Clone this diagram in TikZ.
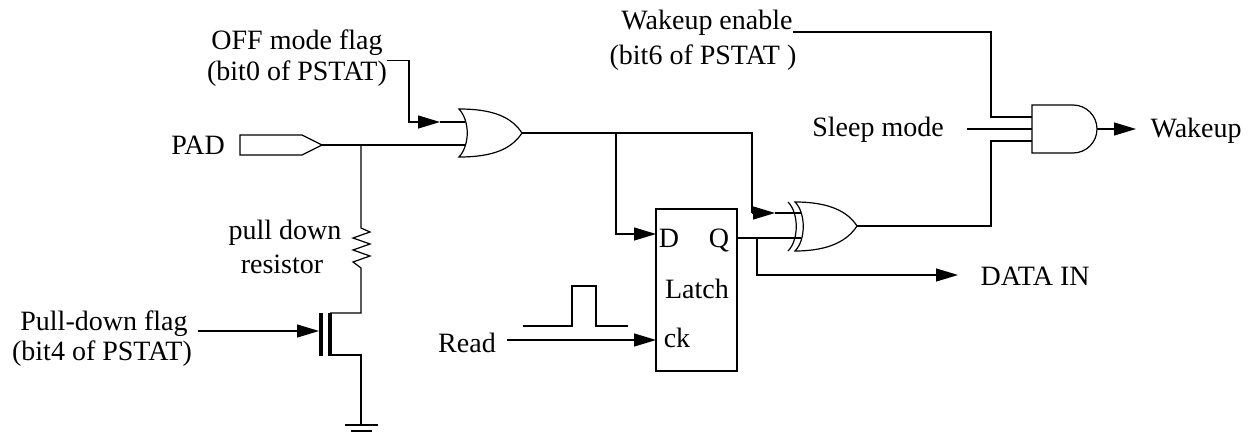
\documentclass[tikz,border=0pt]{standalone}
\usepackage{fontspec}
\setmainfont{Liberation Serif}
\usetikzlibrary{arrows.meta}

\begin{document}
\begin{tikzpicture}[x=0.5pt,y=-0.5pt,line width=0.6pt,
  every node/.style={inner sep=0pt,font=\fontsize{14}{17}\selectfont},
  arr/.style={-{Triangle[length=11pt,width=6.5pt]}},
  fat/.style={line width=1.6pt}]
\useasboundingbox (0,0) rectangle (1258,433);
\draw (459,109) .. controls (495,109) and (512,118) .. (522,133)
  .. controls (512,148) and (495,157) .. (459,157)
  .. controls (470,145) and (470,121) .. (459,109) -- cycle;
\coordinate (or-a) at (465,122);
\coordinate (or-b) at (465,145);
\coordinate (or-y) at (522,133);
\draw (795,202) .. controls (830,202) and (848,212) .. (857,226)
  .. controls (848,240) and (830,251) .. (795,251)
  .. controls (806,240) and (806,213) .. (795,202) -- cycle;
\draw (788,202) .. controls (799,213) and (799,240) .. (788,251);
\coordinate (xor-a) at (801,213);
\coordinate (xor-b) at (801,238);
\coordinate (xor-y) at (857,226);
\draw (1032,105) -- (1073,105) arc[start angle=-90,end angle=90,radius=24]
  -- (1032,153) -- cycle;
\coordinate (and-a) at (1032,117);
\coordinate (and-b) at (1032,129);
\coordinate (and-c) at (1032,141);
\coordinate (and-y) at (1097,129);
\node[draw,minimum width=40.5pt,minimum height=81pt] (latch) at (696.5,290) {};
\coordinate (lat-d) at (656,234);
\coordinate (lat-ck) at (656,340);
\coordinate (lat-q) at (737,238);
\draw (240,135) -- (302,135) -- (322,145) -- (302,155) -- (240,155) -- cycle;
\coordinate (pad-tip) at (322,145);
\coordinate (j1) at (361,145);
\coordinate (j2) at (616,133);
\coordinate (j3) at (757,238);
\node (offA) at (297,50) [anchor=base] {OFF mode flag};
\node (offB) at (297,81) [anchor=base] {(bit0 of PSTAT)};
\node (wenA) at (707,30) [anchor=base] {Wakeup enable};
\node (wenB) at (703,65) [anchor=base] {(bit6 of PSTAT )};
\node (pad) at (198,155) [anchor=base] {PAD};
\node (resA) at (285,239) [anchor=base] {pull down};
\node (resB) at (282,273) [anchor=base] {resistor};
\node (pdA) at (104,330) [anchor=base] {Pull-down flag};
\node (pdB) at (102,360) [anchor=base] {(bit4 of PSTAT)};
\node (read) at (467,352) [anchor=base] {Read};
\node (latD) at (669,247) [anchor=base] {D};
\node (latQ) at (719,247) [anchor=base] {Q};
\node (latN) at (697,298) [anchor=base] {Latch};
\node (latC) at (677,347) [anchor=base] {ck};
\node (sleep) at (878,137) [anchor=base] {Sleep mode};
\node (wakeup) at (1150,138) [anchor=base west] {Wakeup};
\node (datain) at (980,285) [anchor=base west] {DATA IN};
\coordinate (or-knee) at (409,122);
\coordinate (or-tip) at (440,122);
\draw[arr] (offB.north east) -| (or-knee) -- (or-tip);
\draw (or-tip) -- (or-a);
\draw (pad-tip) -- (or-b);
\draw (j1) -- (361,228) -- (370,232) -- (353,238) -- (370,244) -- (353,250)
  -- (370,256) -- (353,262) -- (361,268) -- (361,313) -- (330,313);
\draw[fat] (330,313) -- (330,356);
\draw[fat] (321,313) -- (321,356);
\draw (330,355) -- (361,355) -- (361,425);
\draw (345,425) -- (378,425);
\draw (351,431) -- (372,431);
\coordinate (pd-end) at (198,331);
\coordinate (fet-g) at (319,331);
\draw[arr] (pd-end) -- (fet-g);
\coordinate (x-knee) at (752,213);
\coordinate (x-tip) at (775,213);
\draw (or-y) -| (x-knee);
\draw[arr] (x-knee) -- (x-tip);
\draw (x-tip) -- (xor-a);
\draw[arr] (j2) |- (lat-d);
\draw (lat-q) -- (xor-b);
\coordinate (din-tip) at (958,275);
\draw[arr] (j3) |- (din-tip);
\coordinate (rd-end) at (507,340);
\draw[arr] (rd-end) -- (lat-ck);
\draw (523,326) -- (572,326) -- (572,286) -- (596,286) -- (596,326) -- (628,326);
\coordinate (and-k1) at (991,117);
\coordinate (and-k3) at (991,141);
\draw ([yshift=-1pt]wenA.base east) -| (and-k1) -- (and-a);
\coordinate (sl-end) at (967,129);
\draw (sl-end) -- (and-b);
\draw (xor-y) -| (and-k3) -- (and-c);
\coordinate (wk-tip) at (1136,129);
\draw[arr] (and-y) -- (wk-tip);
\end{tikzpicture}
\end{document}
